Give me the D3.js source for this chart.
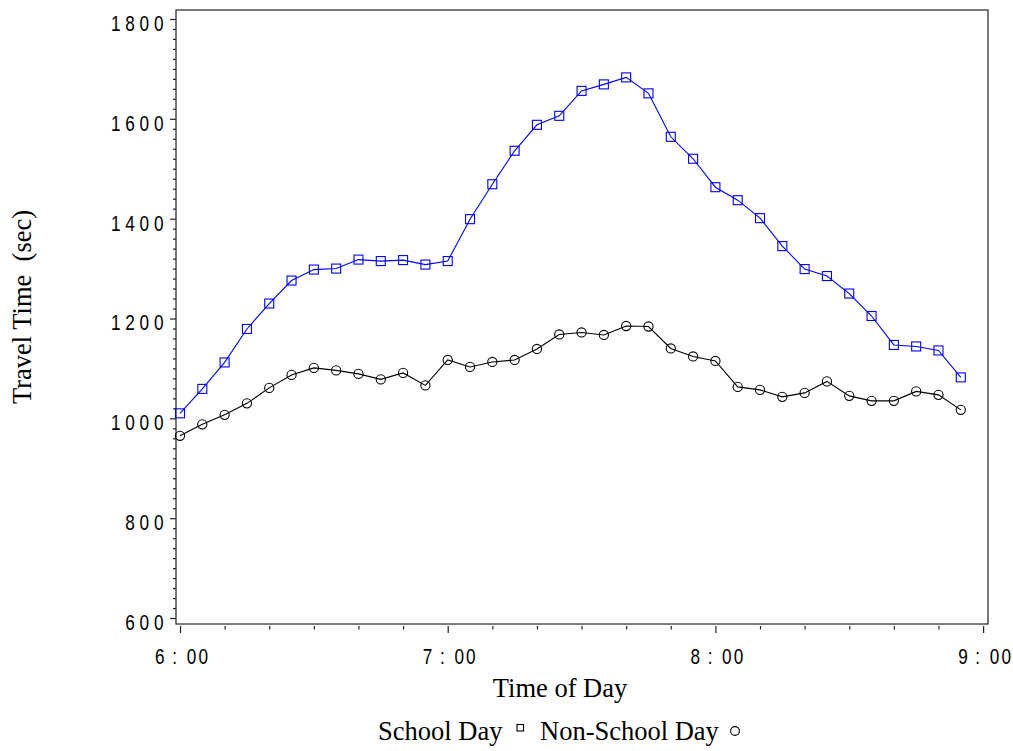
<!DOCTYPE html>
<html>
<head>
<meta charset="utf-8">
<script src="https://cdn.jsdelivr.net/npm/d3@7"></script>
<style>
  html, body { margin: 0; padding: 0; background: #fff; }
  svg { display: block; }
</style>
</head>
<body>
<svg id="chart" width="1013" height="751"></svg>
<script>
// Five-minute departure times, 6:00 to 8:55
const times = ["6:00","6:05","6:10","6:15","6:20","6:25","6:30","6:35","6:40","6:45","6:50","6:55",
               "7:00","7:05","7:10","7:15","7:20","7:25","7:30","7:35","7:40","7:45","7:50","7:55",
               "8:00","8:05","8:10","8:15","8:20","8:25","8:30","8:35","8:40","8:45","8:50","8:55"];

// Mean travel time (seconds)
const schoolDay = [1010,1059,1112,1179,1230,1276,1298,1300,1318,1315,1317,1308,
                   1315,1399,1469,1536,1588,1606,1656,1669,1683,1651,1564,1520,
                   1463,1437,1401,1345,1299,1285,1250,1205,1147,1144,1136,1082];
const nonSchoolDay = [965,988,1007,1030,1061,1087,1101,1096,1089,1078,1091,1066,
                      1117,1103,1113,1117,1139,1168,1172,1167,1185,1184,1140,1124,
                      1115,1063,1057,1043,1051,1074,1045,1035,1035,1054,1047,1017];

const yTicks = [600, 800, 1000, 1200, 1400, 1600, 1800];
const xTickLabels = ["6:00", "7:00", "8:00", "9:00"];

const toMin = s => { const [h, m] = s.split(":").map(Number); return (h - 6) * 60 + m; };

const svg = d3.select("#chart");
const frame = { left: 176, right: 988, top: 10, bottom: 624 };

const x = d3.scaleLinear().domain([-0.9, 181.1]).range([frame.left, frame.right]);
const y = d3.scaleLinear().domain([588, 1818]).range([frame.bottom, frame.top]);

const tickFont = "'Liberation Sans', Arial, sans-serif";
const serif = "'Liberation Serif', 'Times New Roman', serif";
const squeeze = 0.78;   // horizontal compression for the narrow tick-label face

// Plot frame
svg.append("rect")
  .attr("x", frame.left).attr("y", frame.top)
  .attr("width", frame.right - frame.left).attr("height", frame.bottom - frame.top)
  .attr("fill", "none").attr("stroke", "#222").attr("stroke-width", 1.2);

// Y axis: major every 200, minor every 20
const yMinor = d3.range(600, 1801, 20).filter(v => v % 200 !== 0);
const yAxisMajor = d3.axisLeft(y).tickValues(yTicks).tickSize(6).tickFormat("");
const yAxisMinor = d3.axisLeft(y).tickValues(yMinor).tickSize(3).tickFormat("");
[yAxisMajor, yAxisMinor].forEach(ax => {
  const g = svg.append("g").attr("transform", `translate(${frame.left},0)`).call(ax);
  g.select(".domain").remove();
  g.selectAll("line").attr("stroke", "#222").attr("stroke-width", 1.2);
});
svg.append("g").selectAll("g").data(yTicks).join("g")
  .attr("transform", d => `translate(168.2,${y(d) + 12}) scale(${squeeze},1)`)
  .append("text")
  .attr("text-anchor", "end")
  .attr("font-family", tickFont).attr("font-size", 22)
  .attr("letter-spacing", 6.1)
  .text(d => d);

// X axis: major every hour, minor every 10 minutes
const xMajor = xTickLabels.map(toMin);
const xMinor = d3.range(0, 181, 10).filter(v => v % 60 !== 0);
const xAxisMajor = d3.axisBottom(x).tickValues(xMajor).tickSize(7).tickFormat("");
const xAxisMinor = d3.axisBottom(x).tickValues(xMinor).tickSize(3.5).tickFormat("");
[xAxisMajor, xAxisMinor].forEach(ax => {
  const g = svg.append("g").attr("transform", `translate(0,${frame.bottom + 2})`).call(ax);
  g.select(".domain").remove();
  g.selectAll("line").attr("stroke", "#222").attr("stroke-width", 1.2);
});
const xl = svg.append("g").selectAll("g").data(xTickLabels).join("g")
  .attr("transform", d => `translate(${x(toMin(d))},664) scale(${squeeze},1)`)
  .append("text")
  .attr("font-family", tickFont).attr("font-size", 22);
xl.each(function(d) {
  const [h, m] = d.split(":");
  const t = d3.select(this);
  t.append("tspan").attr("x", -32).text(h);
  t.append("tspan").attr("x", -9.9).text(":");
  t.append("tspan").attr("x", 8.6).text(m[0]);
  t.append("tspan").attr("x", 23.6).text(m[1]);
});

// Series lines and markers
const line = d3.line().x((d, i) => x(toMin(times[i]))).y(d => y(d));

svg.append("path").datum(schoolDay).attr("d", line)
  .attr("fill", "none").attr("stroke", "#0000ff").attr("stroke-width", 1.1);
svg.append("path").datum(nonSchoolDay).attr("d", line)
  .attr("fill", "none").attr("stroke", "#000").attr("stroke-width", 1.1);

const sq = 9;
svg.append("g").selectAll("rect").data(schoolDay).join("rect")
  .attr("x", (d, i) => x(toMin(times[i])) - sq / 2)
  .attr("y", d => y(d) - sq / 2)
  .attr("width", sq).attr("height", sq)
  .attr("fill", "none").attr("stroke", "#0000ff").attr("stroke-width", 1.1);

svg.append("g").selectAll("circle").data(nonSchoolDay).join("circle")
  .attr("cx", (d, i) => x(toMin(times[i])))
  .attr("cy", d => y(d))
  .attr("r", 4.6)
  .attr("fill", "none").attr("stroke", "#000").attr("stroke-width", 1.1);

// Axis titles
svg.append("text")
  .attr("x", 560).attr("y", 697)
  .attr("text-anchor", "middle")
  .attr("font-family", serif).attr("font-size", 26.5)
  .text("Time of Day");

svg.append("text")
  .attr("transform", "translate(30.5,307) rotate(-90)")
  .attr("text-anchor", "middle")
  .attr("font-family", serif).attr("font-size", 26.5)
  .attr("xml:space", "preserve")
  .style("white-space", "pre")
  .text("Travel Time  (sec)");

// Legend
const legend = svg.append("g").attr("font-family", serif).attr("font-size", 26.5);
legend.append("text").attr("x", 378).attr("y", 740).text("School Day");
legend.append("rect").attr("x", 517).attr("y", 724.5).attr("width", 6.5).attr("height", 6.5)
  .attr("fill", "none").attr("stroke", "#000").attr("stroke-width", 1.1);
legend.append("text").attr("x", 540).attr("y", 740).text("Non-School Day");
legend.append("circle").attr("cx", 735).attr("cy", 731).attr("r", 4.4)
  .attr("fill", "none").attr("stroke", "#000").attr("stroke-width", 1.1);
</script>
</body>
</html>
